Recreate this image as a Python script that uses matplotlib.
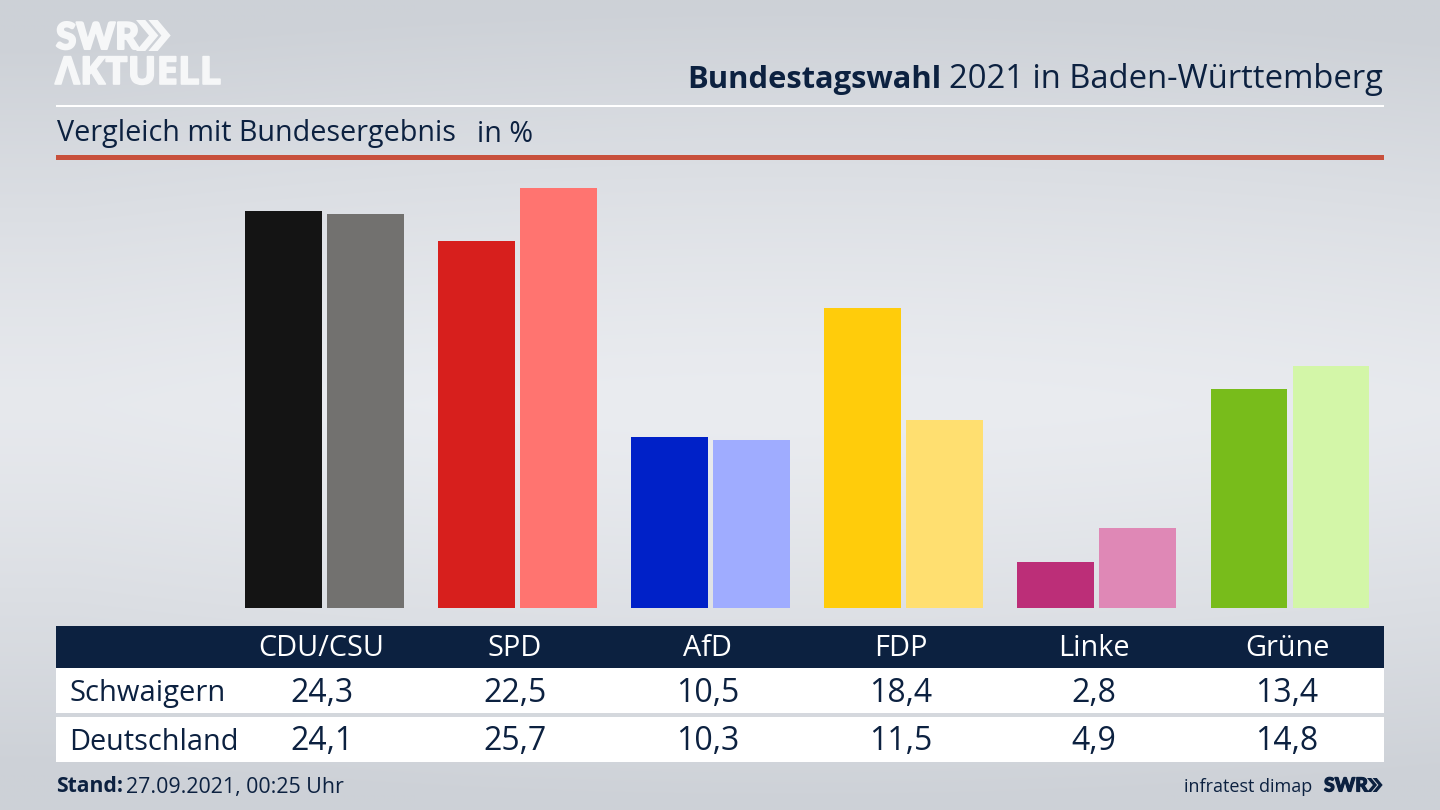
import numpy as np
import matplotlib
matplotlib.use("Agg")
import matplotlib.pyplot as plt
import matplotlib.patheffects as pe
from matplotlib.patches import Rectangle, Polygon

parties = ["CDU/CSU", "SPD", "AfD", "FDP", "Linke", "Grüne"]
schwaigern = [24.3, 22.5, 10.5, 18.4, 2.8, 13.4]
deutschland = [24.1, 25.7, 10.3, 11.5, 4.9, 14.8]
colors_local = ["#141414", "#d71f1d", "#0021c8", "#ffcc0b", "#bc2e78", "#78bc1b"]
colors_federal = ["#72716f", "#ff7470", "#9facff", "#ffdf70", "#df88b6", "#d3f6a8"]

NAVY = "#0c2140"
LOGO = "#f6f7f8"
W, H = 1440, 810
plt.rcParams["font.family"] = ["Open Sans", "DejaVu Sans"]


def de(val):
    return f"{val:.1f}".replace(".", ",")


def chevrons(ax, x, y, h, color):
    # the two >> of the SWR logo
    w = h * 0.42
    t = h * 0.30
    for x0 in (x, x + w * 0.95):
        ax.add_patch(Polygon([(x0, y), (x0 + t, y), (x0 + t + w, y + h / 2),
                              (x0 + t, y + h), (x0, y + h), (x0 + w, y + h / 2)],
                             color=color, lw=0))


fig = plt.figure(figsize=(W / 100, H / 100), dpi=100)

# background + all furniture in pixel coordinates
bg = fig.add_axes([0, 0, 1, 1])
bg.set_xlim(0, W)
bg.set_ylim(H, 0)
bg.axis("off")

yy, xx = np.mgrid[0:1:81j, 0:1:144j]
shade = 1 - np.clip(np.abs(yy - 0.5) * 2, 0, 1) ** 1.3
side = np.clip(np.abs(xx - 0.55) * 2, 0, 1) ** 2 * 0.12
shade = np.clip(shade - side, 0, 1)
dark = np.array([205, 209, 215]) / 255
light = np.array([234, 236, 240]) / 255
img = dark + (light - dark) * shade[..., None]
bg.imshow(img, extent=(0, W, H, 0), aspect="auto", zorder=0, interpolation="bilinear")

# header
bg.text(56, 38, "SWR", fontsize=26.5, fontweight="black", family=["Lato", "DejaVu Sans"],
        color=LOGO, va="center", ha="left",
        path_effects=[pe.withStroke(linewidth=1.5, foreground=LOGO)])
chevrons(bg, 136, 20, 31, LOGO)
bg.text(55, 74, "ΛKTUELL", fontsize=27.6, fontweight="bold", color=LOGO, va="center", ha="left",
        path_effects=[pe.withStroke(linewidth=1.2, foreground=LOGO)])

title = bg.text(1383, 80, "2021 in Baden-Württemberg", fontsize=23.6, color=NAVY, va="center", ha="right")
fig.canvas.draw()
bb = title.get_window_extent()
bg.text(bb.x0 - 8, 80, "Bundestagswahl", fontsize=22.2, fontweight="bold", color=NAVY, va="center", ha="right")

bg.add_patch(Rectangle((56, 104.5), 1328, 2.5, color="white", lw=0))
bg.text(57, 134, "Vergleich mit Bundesergebnis", fontsize=20.7, color=NAVY, va="center", ha="left")
bg.text(477, 134, "in %", fontsize=20.7, color=NAVY, va="center", ha="left")
bg.add_patch(Rectangle((56, 155), 1328, 5, color="#c8503c", lw=0))

# table
bg.add_patch(Rectangle((56, 626), 1328, 42, color=NAVY, lw=0))
bg.add_patch(Rectangle((56, 668), 1328, 45, color="white", lw=0))
bg.add_patch(Rectangle((56, 717), 1328, 45, color="white", lw=0))
bg.text(69.5, 693, "Schwaigern", fontsize=21, color=NAVY, va="center", ha="left")
bg.text(69.5, 742, "Deutschland", fontsize=20.8, color=NAVY, va="center", ha="left")

for i, party in enumerate(parties):
    cx = 321.5 + i * 193.1
    bg.text(cx, 649, party, fontsize=20.8, color="white", va="center", ha="center")
    bg.text(cx, 693, de(schwaigern[i]), fontsize=23, color=NAVY, va="center", ha="center")
    bg.text(cx, 742, de(deutschland[i]), fontsize=23, color=NAVY, va="center", ha="center")

# footer
bg.text(56, 787, "Stand:", fontsize=15.2, fontweight="bold", color=NAVY, va="center", ha="left")
bg.text(126, 787, "27.09.2021, 00:25 Uhr", fontsize=15.4, color=NAVY, va="center", ha="left")
bg.text(1312, 787, "infratest dimap", fontsize=13, color=NAVY, va="center", ha="right")
bg.text(1324, 786, "SWR", fontsize=14, fontweight="black", family=["Lato", "DejaVu Sans"],
        color=NAVY, va="center", ha="left",
        path_effects=[pe.withStroke(linewidth=0.8, foreground=NAVY)])
chevrons(bg, 1367, 778, 14, NAVY)

# bars, baseline at y=608 px, 16.33 px per percent point
ymax = 26
top = 608 - ymax * 16.33
ax = fig.add_axes([227.7 / W, (H - 608) / H, 1158.9 / W, (608 - top) / H])
ax.patch.set_alpha(0)
x = np.arange(len(parties))
ax.bar(x - 0.2124, schwaigern, width=0.398, color=colors_local)
ax.bar(x + 0.2124, deutschland, width=0.398, color=colors_federal)
ax.set_xlim(-0.5, 5.5)
ax.set_ylim(0, ymax)
ax.axis("off")

fig.savefig("out.png", dpi=100)
